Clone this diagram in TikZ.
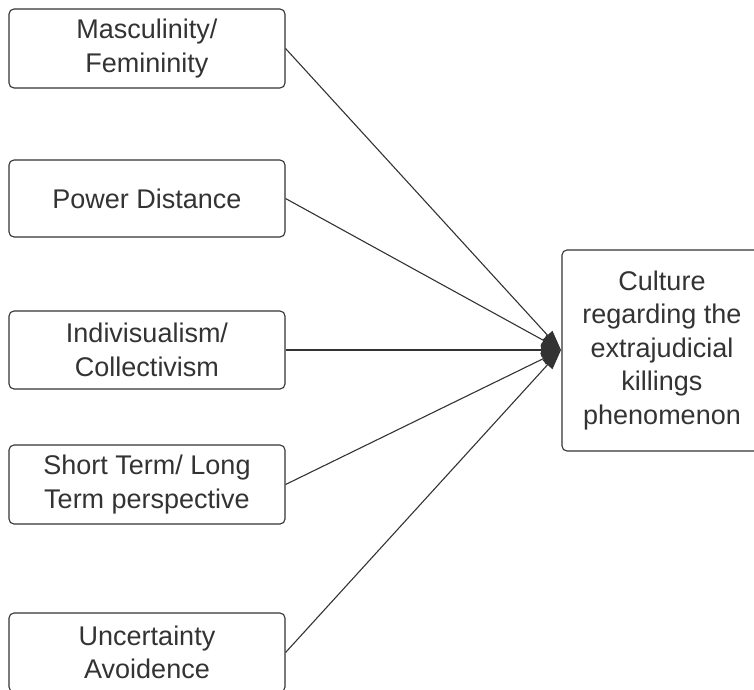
\documentclass[tikz,border=0pt]{standalone}
\usepackage{fontspec}
\setmainfont{Liberation Sans}
\usetikzlibrary{arrows.meta}
\definecolor{ink}{HTML}{333333}
\begin{document}
\begin{tikzpicture}[x=1pt, y=-1pt,
        factor/.style={draw=ink, line width=1.1pt, rounded corners=5pt, text=ink,
            minimum width=276pt, align=center, font=\fontsize{27}{33.5}\selectfont},
        outcome/.style={factor, minimum width=200pt, minimum height=201pt},
        link/.style={draw=ink, line width=1.1pt, -{Triangle[length=20pt, width=13pt]}}]
        \useasboundingbox (0,0) rectangle (754,689);
        % influencing dimensions
        \node[factor, minimum height=79pt] (masc) at (147,48.5) {Masculinity/\\Femininity};
        \node[factor, minimum height=77pt] (power) at (147,198.5) {Power Distance};
        \node[factor, minimum height=78pt] (indiv) at (147,350) {Indivisualism/\\Collectivism};
        \node[factor, minimum height=79pt] (term) at (147,484.5) {Short Term/ Long\\Term perspective};
        \node[factor, minimum height=79pt] (uncert) at (147,652.5) {Uncertainty\\Avoidence};

        % outcome
        \node[outcome] (culture) at (662,350.5) {Culture\\regarding the\\extrajudicial\\killings\\phenomenon};
        \coordinate (hub) at (561,350);

        % connectors
        \foreach \src in {masc, power, indiv, term, uncert}
            \draw[link] (\src.east) -- (hub);
    \end{tikzpicture}
\end{document}
